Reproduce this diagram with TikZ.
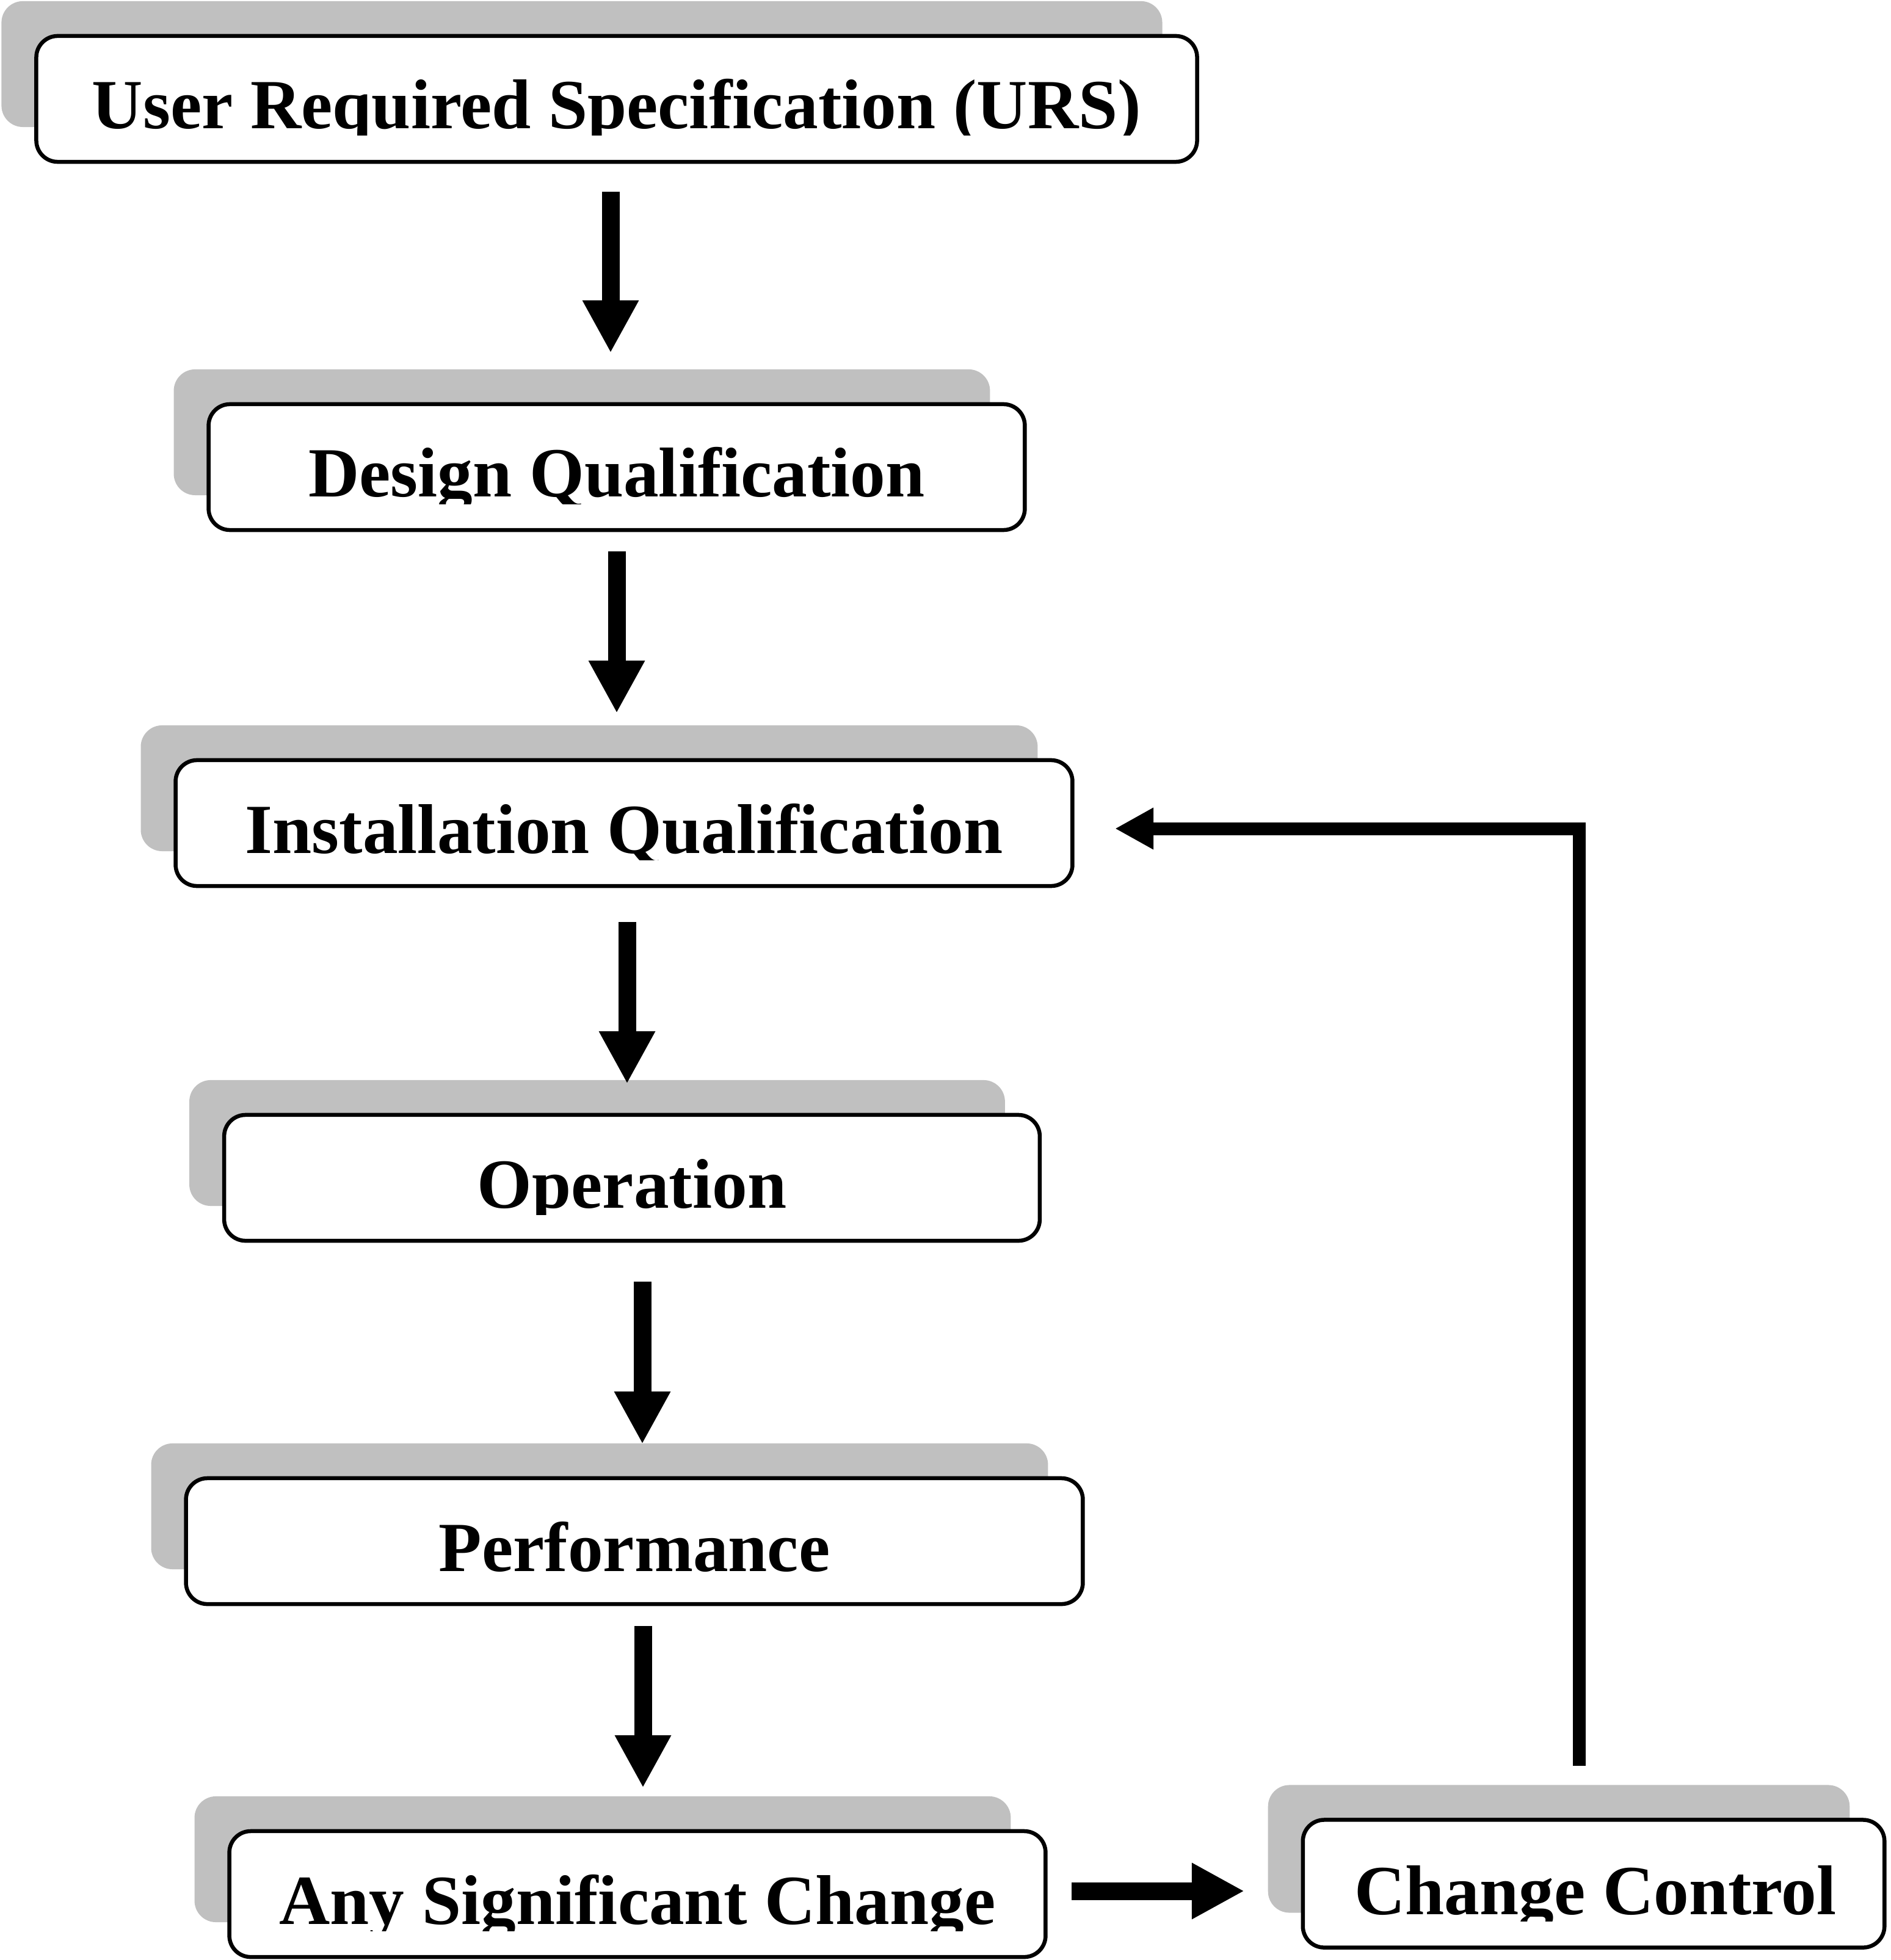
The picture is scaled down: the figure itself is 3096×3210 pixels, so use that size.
\documentclass[tikz,border=0pt]{standalone}
\usepackage{fontspec}
\setmainfont{Liberation Serif}
\usetikzlibrary{arrows.meta,shadows}
\definecolor{shadowgray}{RGB}{192,192,192}
\begin{document}
\begin{tikzpicture}[x=0.01cm,y=-0.01cm,
  box/.style={draw=black, line width=0.065cm, fill=white, rounded corners=0.35cm,
    minimum height=2.06cm, inner sep=0pt,
    general shadow={shadow xshift=-0.57cm, shadow yshift=0.57cm, fill=shadowgray}},
  lbl/.style={anchor=base, inner sep=0pt, font=\fontsize{32.8}{36}\selectfont\bfseries},
  blockarrow/.style={line width=0.29cm, -{Triangle[length=0.86cm,width=0.86cm]}},
  fbarrow/.style={line width=0.21cm, line join=miter, -{Triangle[length=0.63cm,width=0.64cm]}}
]
\useasboundingbox (0,0) rectangle (3096,3210);

% boxes
\node[box, minimum width=19.00cm] (urs)  at (1010,162)  {};
\node[box, minimum width=13.36cm] (dq)   at (1010,765)  {};
\node[box, minimum width=14.68cm] (iq)   at (1022,1348) {};
\node[box, minimum width=13.35cm] (op)   at (1035,1929) {};
\node[box, minimum width=14.68cm] (perf) at (1039,2524) {};
\node[box, minimum width=13.36cm] (asc)  at (1044,3102) {};
\node[box, minimum width=9.52cm, minimum height=2.09cm] (cc) at (2610,3085) {};

% labels (descenders clipped as in the original)
\begin{scope}\clip (57,57) rectangle (1963,222);
  \node[lbl] (urst) at (1010,211) {User Required Specification (URS)};\end{scope}
\begin{scope}\clip (339,658) rectangle (1681,825);
  \node[lbl] (dqt) at (1010,814) {Design Qualification};\end{scope}
\begin{scope}\clip (285,1242) rectangle (1759,1408);
  \node[lbl] (iqt) at (1022,1397) {Installation Qualification};\end{scope}
\begin{scope}\clip (365,1823) rectangle (1706,1989);
  \node[lbl] (opt) at (1035,1978) {Operation};\end{scope}
\begin{scope}\clip (302,2418) rectangle (1776,2584);
  \node[lbl] (perft) at (1039,2573) {Performance};\end{scope}
\begin{scope}\clip (373,2997) rectangle (1715,3162);
  \node[lbl] (asct) at (1044,3151) {Any Significant Change};\end{scope}
\begin{scope}\clip (2131,2978) rectangle (3088,3146);
  \node[lbl] (cct) at (2613,3135) {Change Control};\end{scope}

% arrow end points
\coordinate (a1s) at (1000,314);  \coordinate (a1e) at (1000,578);
\coordinate (a2s) at (1010,903);  \coordinate (a2e) at (1010,1168);
\coordinate (a3s) at (1027,1510); \coordinate (a3e) at (1027,1775);
\coordinate (a4s) at (1052,2099); \coordinate (a4e) at (1052,2365);
\coordinate (a5s) at (1053,2663); \coordinate (a5e) at (1053,2928);
\coordinate (a6s) at (1755,3097); \coordinate (a6e) at (2038,3097);
\coordinate (fbs) at (2586,2892); \coordinate (fbe) at (1826,1357);

\draw[blockarrow] (a1s) -- (a1e);
\draw[blockarrow] (a2s) -- (a2e);
\draw[blockarrow] (a3s) -- (a3e);
\draw[blockarrow] (a4s) -- (a4e);
\draw[blockarrow] (a5s) -- (a5e);
\draw[blockarrow] (a6s) -- (a6e);
\draw[fbarrow] (fbs) |- (fbe);
\end{tikzpicture}
\end{document}
